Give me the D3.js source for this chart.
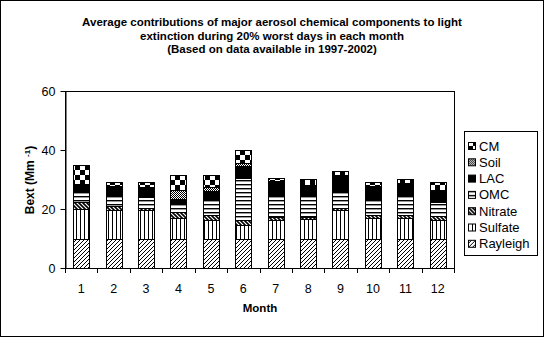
<!DOCTYPE html>
<html><head><meta charset="utf-8">
<script src="https://cdn.jsdelivr.net/npm/d3@7"></script>
<style>
body{margin:0;background:#fff;}
text{font-family:"Liberation Sans",Arial,sans-serif;fill:#000;}
</style></head>
<body><svg id="c" width="545" height="338"></svg>
<script>
const months = ["1","2","3","4","5","6","7","8","9","10","11","12"];
const rayleigh = [10,10,10,10,10,10,10,10,10,10,10,10];
const sulfate  = [10,9.5,9.7,6.8,6.3,4.6,6.4,6.6,9.7,7.1,7.1,6.3];
const nitrate  = [2.4,1.5,0.7,2.3,1.7,1.7,0.8,0.8,0.6,0.8,0.8,1.3];
const omc      = [3.2,3.3,3.8,2.8,5.4,14.1,7.6,7.3,5.8,5.6,6.4,4.9];
const lac      = [2.7,3.3,3.2,1.5,2.8,4.2,4.5,3.4,5.3,4.1,4.3,3.9];
const soil     = [0.2,0.2,0.2,3.1,1.4,1.1,0.1,0.1,0.1,0.1,0.1,0.1];
const cm       = [6.3,1.2,1.4,5.0,3.9,4.3,1.0,1.8,1.4,1.6,1.6,2.5];
const seriesNames = ["Rayleigh","Sulfate","Nitrate","OMC","LAC","Soil","CM"];
const seriesVals = [rayleigh,sulfate,nitrate,omc,lac,soil,cm];
const yTicks = [0,20,40,60];
const titleLines = ["Average contributions of major aerosol chemical components to light",
  "extinction during 20% worst days in each month","(Based on data available in 1997-2002)"];

const svg = d3.select("#c");
svg.append("rect").attr("x",0.5).attr("y",0.5).attr("width",543).attr("height",336)
  .attr("fill","#fff").attr("stroke","#000");

// patterns
const defs = svg.append("defs");
function pat(id,w,h){return defs.append("pattern").attr("id",id).attr("patternUnits","userSpaceOnUse")
  .attr("width",w).attr("height",h);}
let p;
p=pat("pRayleigh",4,4); p.append("rect").attr("width",4).attr("height",4).attr("fill","#fff");
p.append("path").attr("d","M0,4L4,0M-1,1L1,-1M3,5L5,3").attr("stroke","#000").attr("stroke-width",1);
p=pat("pSulfate",4,4); p.append("rect").attr("width",4).attr("height",4).attr("fill","#fff");
p.append("rect").attr("x",0).attr("width",1).attr("height",4).attr("fill","#000");
p=pat("pNitrate",4,4); p.append("rect").attr("width",4).attr("height",4).attr("fill","#fff");
p.append("path").attr("d","M0,0L4,4M-1,3L1,5M3,-1L5,1").attr("stroke","#000").attr("stroke-width",1.6);
p=pat("pOMC",4,4); p.append("rect").attr("width",4).attr("height",4).attr("fill","#fff");
p.append("rect").attr("y",0).attr("width",4).attr("height",1.4).attr("fill","#000");
p=pat("pLAC",4,4); p.append("rect").attr("width",4).attr("height",4).attr("fill","#000");
p=pat("pSoil",2,2); p.append("rect").attr("width",2).attr("height",2).attr("fill","#fff");
p.append("rect").attr("width",1).attr("height",1).attr("fill","#000");
p.append("rect").attr("x",1).attr("y",1).attr("width",1).attr("height",1).attr("fill","#000");
p=pat("pCM",10,10); p.append("rect").attr("width",10).attr("height",10).attr("fill","#fff");
p.append("rect").attr("width",5).attr("height",5).attr("fill","#000");
p.append("rect").attr("x",5).attr("y",5).attr("width",5).attr("height",5).attr("fill","#000");

// title
svg.append("g").selectAll("text").data(titleLines).join("text")
  .attr("x",272).attr("y",(d,i)=>26+i*13.5).attr("text-anchor","middle")
  .attr("font-size","11.5px").attr("font-weight","bold").text(d=>d);

const pL=65,pR=454,pT=91,pB=268;
const x = d3.scaleBand().domain(months).range([pL,pR]).paddingInner(0.5).paddingOuter(0.25);
const y = d3.scaleLinear().domain([0,60]).range([pB,pT]);

// plot area border
svg.append("rect").attr("x",pL+0.5).attr("y",pT+0.5).attr("width",pR-pL).attr("height",pB-pT)
  .attr("fill","none").attr("stroke","#000");

const table = months.map((m,i)=>{const o={month:m}; seriesNames.forEach((s,k)=>o[s]=seriesVals[k][i]); return o;});
const stack = d3.stack().keys(seriesNames)(table);
svg.append("g").selectAll("g").data(stack).join("g")
  .attr("fill",d=>"url(#p"+d.key+")")
  .selectAll("rect").data(d=>d).join("rect")
  .attr("x",d=>Math.round(x(d.data.month))+0.5)
  .attr("width",Math.round(x.bandwidth()))
  .attr("y",d=>Math.round(y(d[1]))+0.5)
  .attr("height",d=>Math.max(0,Math.round(y(d[0]))-Math.round(y(d[1]))))
  .attr("stroke","#000").attr("stroke-width",1);

// y axis
const ya = svg.append("g").attr("transform",`translate(${pL+0.5},0)`)
  .call(d3.axisLeft(y).tickValues(yTicks).tickSize(5).tickPadding(5).tickSizeOuter(0));
ya.selectAll("text").attr("font-size","12.5px").attr("font-family","Liberation Sans, Arial, sans-serif");
ya.select(".domain").attr("stroke","#000");

// x axis
const bounds = d3.range(months.length+1).map(i=>pL+i*(pR-pL)/months.length);
const xa = svg.append("g");
xa.append("line").attr("x1",pL).attr("x2",pR+1).attr("y1",pB+0.5).attr("y2",pB+0.5).attr("stroke","#000");
xa.selectAll("line.t").data(bounds).join("line").attr("class","t")
  .attr("x1",d=>Math.round(d)+0.5).attr("x2",d=>Math.round(d)+0.5).attr("y1",pB).attr("y2",pB+5).attr("stroke","#000");
xa.selectAll("text").data(months).join("text")
  .attr("x",d=>x(d)+x.bandwidth()/2).attr("y",293).attr("text-anchor","middle")
  .attr("font-size","12.5px").text(d=>d);

svg.append("text").attr("x",260).attr("y",312).attr("text-anchor","middle")
  .attr("font-size","11.5px").attr("font-weight","bold").text("Month");

const yl = svg.append("text").attr("transform","translate(34,180) rotate(-90)").attr("text-anchor","middle")
  .attr("font-size","12px").attr("font-weight","bold");
yl.append("tspan").text("Bext (Mm ");
yl.append("tspan").attr("dy",-4).attr("font-size","8px").text("-1");
yl.append("tspan").attr("dy",4).text(")");

// legend
const lg = svg.append("g");
lg.append("rect").attr("x",464.5).attr("y",131.5).attr("width",73).attr("height",124)
  .attr("fill","#fff").attr("stroke","#000");
const legOrder = seriesNames.slice().reverse();
const li = lg.selectAll("g.i").data(legOrder).join("g").attr("class","i")
  .attr("transform",(d,i)=>`translate(468,${146+i*16.3})`);
li.append("rect").attr("x",0.5).attr("y",-3.5).attr("width",7).attr("height",7)
  .attr("fill",d=>"url(#p"+d+")").attr("stroke","#000");
li.append("text").attr("x",11).attr("y",4.5).attr("font-size","13px").text(d=>d);
</script></body></html>
